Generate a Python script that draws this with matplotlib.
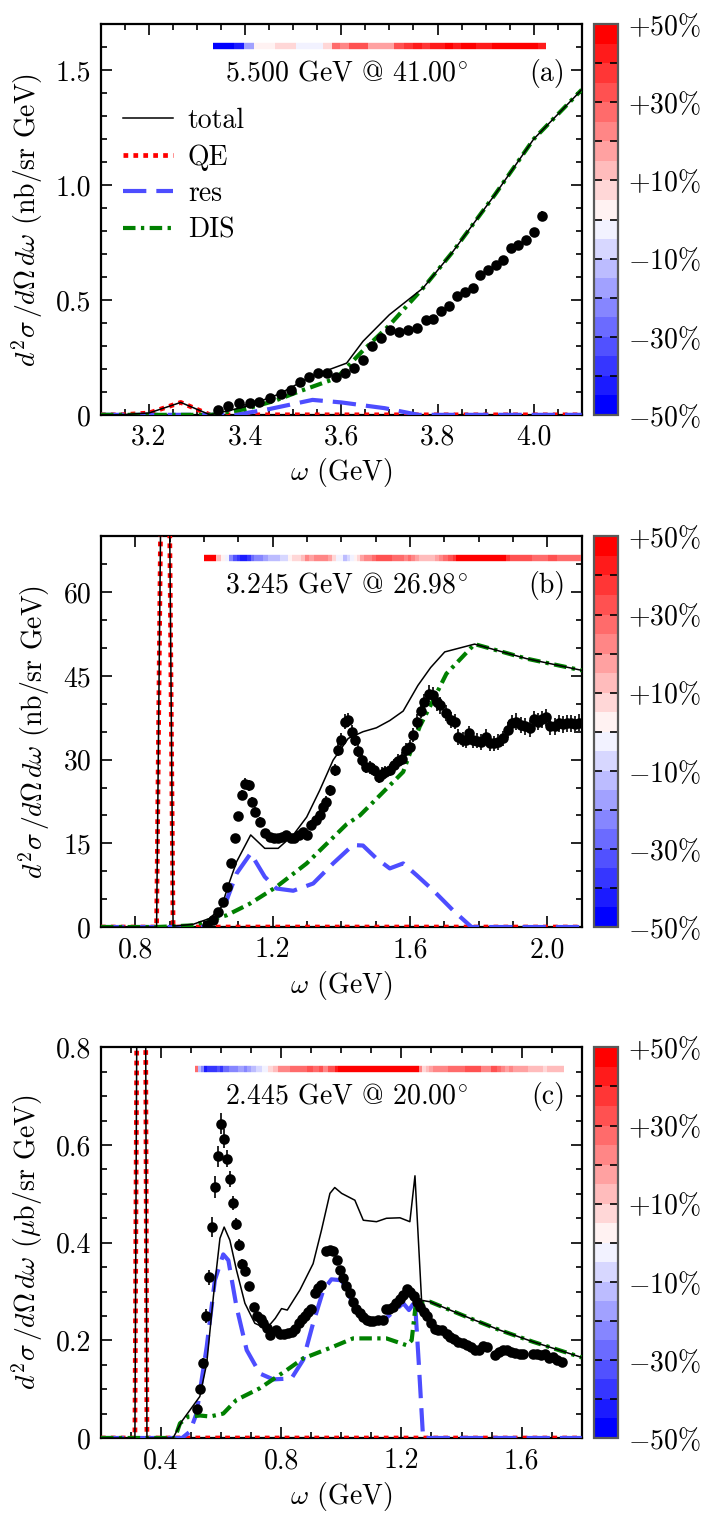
import matplotlib
matplotlib.use("Agg")
import matplotlib.pyplot as plt
import numpy as np
from matplotlib.collections import LineCollection
from matplotlib.transforms import blended_transform_factory
from matplotlib.ticker import MultipleLocator, FuncFormatter

plt.rcParams["font.family"] = ["cmr10", "DejaVu Serif"]
plt.rcParams["mathtext.fontset"] = "cm"
plt.rcParams["font.size"] = 10
plt.rcParams["axes.unicode_minus"] = False
plt.rcParams["axes.linewidth"] = 0.8

# ---------------- panel (a): 5.500 GeV @ 41.00 deg ----------------
a_w = [3.344, 3.365, 3.388, 3.409, 3.429, 3.451, 3.474, 3.495, 3.515, 3.533,
       3.552, 3.571, 3.589, 3.607, 3.626, 3.645, 3.664, 3.682, 3.701, 3.720,
       3.739, 3.758, 3.776, 3.791, 3.808, 3.824, 3.841, 3.857, 3.873, 3.888,
       3.904, 3.921, 3.936, 3.952, 3.968, 3.984, 4.000, 4.017]
a_y = [0.022, 0.039, 0.051, 0.051, 0.057, 0.073, 0.090, 0.109, 0.142, 0.164,
       0.182, 0.182, 0.164, 0.182, 0.204, 0.240, 0.301, 0.334, 0.368, 0.360,
       0.368, 0.378, 0.411, 0.418, 0.450, 0.475, 0.519, 0.533, 0.552, 0.610,
       0.632, 0.650, 0.673, 0.725, 0.740, 0.760, 0.795, 0.867]
a_err = [0.006, 0.006, 0.006, 0.006, 0.006, 0.007, 0.007, 0.007, 0.008, 0.008,
         0.008, 0.008, 0.008, 0.008, 0.008, 0.009, 0.009, 0.009, 0.010, 0.010,
         0.010, 0.010, 0.010, 0.010, 0.011, 0.011, 0.011, 0.011, 0.012, 0.012,
         0.012, 0.012, 0.013, 0.013, 0.013, 0.014, 0.016, 0.020]
a_tot_w = [3.10, 3.14, 3.20, 3.266, 3.327, 3.40, 3.47, 3.54, 3.611, 3.645,
           3.70, 3.77, 3.83, 3.92, 4.00, 4.10]
a_tot_y = [0.0, 0.0, 0.008, 0.054, 0.0, 0.035, 0.09, 0.17, 0.225, 0.32,
           0.436, 0.552, 0.705, 0.96, 1.20, 1.415]
a_qe_w = [3.10, 3.14, 3.20, 3.266, 3.327, 4.10]
a_qe_y = [0.0, 0.0, 0.008, 0.054, 0.0, 0.0]
a_res_w = [3.10, 3.38, 3.45, 3.54, 3.60, 3.69, 3.76, 4.10]
a_res_y = [0.0, 0.0, 0.025, 0.065, 0.054, 0.029, 0.0, 0.0]
a_dis_w = [3.10, 3.33, 3.40, 3.46, 3.51, 3.59, 3.645, 3.70, 3.77, 3.83,
           3.92, 4.00, 4.10]
a_dis_y = [0.0, 0.0, 0.025, 0.06, 0.10, 0.16, 0.28, 0.39, 0.552, 0.705,
           0.96, 1.20, 1.415]

# ---------------- panel (b): 3.245 GeV @ 26.98 deg ----------------
b_w = [1.009, 1.027, 1.041, 1.056, 1.068, 1.078, 1.090, 1.100, 1.111, 1.119,
       1.131, 1.140, 1.150, 1.162, 1.179, 1.191, 1.203, 1.216, 1.228, 1.240,
       1.252, 1.263, 1.276, 1.288, 1.300, 1.313, 1.326, 1.337, 1.347, 1.356,
       1.366, 1.381, 1.389, 1.400, 1.410, 1.420, 1.430, 1.441, 1.449, 1.460,
       1.471, 1.483, 1.494, 1.509, 1.518, 1.528, 1.541, 1.553, 1.565, 1.577,
       1.588, 1.599, 1.609, 1.620, 1.633, 1.642, 1.655, 1.667, 1.678, 1.688,
       1.706, 1.718, 1.730, 1.740, 1.753, 1.764, 1.772, 1.784, 1.795, 1.808,
       1.821, 1.832, 1.844, 1.856, 1.871, 1.886, 1.898, 1.910, 1.922, 1.934,
       1.949, 1.960, 1.973, 1.984, 1.997, 2.009, 2.021, 2.033, 2.044, 2.057,
       2.069, 2.081, 2.093]
b_y = [0.4, 1.25, 2.7, 4.5, 7.2, 11.4, 15.9, 19.9, 23.6, 25.7,
       25.4, 22.4, 20.6, 18.9, 16.8, 16.2, 15.9, 15.9, 16.2, 16.5,
       15.9, 15.9, 16.5, 17.0, 16.5, 18.3, 19.1, 20.0, 21.5, 22.4,
       24.5, 28.1, 31.8, 33.6, 36.8, 37.1, 35.0, 33.6, 31.6, 29.9,
       28.7, 28.6, 28.1, 26.9, 27.5, 27.8, 28.2, 29.0, 29.8, 30.2,
       31.8, 32.3, 34.4, 36.8, 38.8, 40.3, 41.8, 41.5, 40.3, 39.7,
       38.3, 37.1, 36.8, 34.1, 33.6, 33.5, 34.7, 33.5, 33.4, 33.2,
       34.0, 33.0, 32.9, 33.2, 33.8, 35.3, 36.5, 36.8, 36.2, 36.0,
       35.6, 37.2, 36.8, 37.2, 37.6, 36.0, 36.0, 36.5, 36.3, 36.5,
       36.5, 36.3, 36.6]
b_err = [0.2, 0.3, 0.3, 0.4, 0.5, 0.6, 0.7, 0.8, 0.9, 1.0,
         1.0, 0.9, 0.9, 0.8, 0.7, 0.7, 0.7, 0.7, 0.7, 0.7,
         0.7, 0.7, 0.7, 0.8, 0.8, 0.8, 0.9, 0.9, 0.9, 1.0,
         1.0, 1.1, 1.2, 1.2, 1.3, 1.3, 1.2, 1.2, 1.2, 1.1,
         1.1, 1.1, 1.1, 1.1, 1.1, 1.1, 1.1, 1.2, 1.2, 1.2,
         1.2, 1.3, 1.3, 1.4, 1.4, 1.5, 1.5, 1.5, 1.5, 1.5,
         1.4, 1.4, 1.4, 1.4, 1.4, 1.4, 1.4, 1.4, 1.4, 1.4,
         1.4, 1.4, 1.4, 1.4, 1.4, 1.5, 1.5, 1.5, 1.5, 1.5,
         1.5, 1.5, 1.5, 1.5, 1.5, 1.5, 1.5, 1.5, 1.5, 1.5,
         1.5, 1.5, 1.5]
b_tot_w = [0.70, 0.862, 0.888, 0.910, 0.920, 0.969, 1.017, 1.051, 1.071, 1.095,
           1.136, 1.177, 1.216, 1.260, 1.299, 1.337, 1.376, 1.420, 1.463, 1.502,
           1.541, 1.580, 1.623, 1.660, 1.701, 1.788, 1.939, 2.10]
b_tot_y = [0.0, 0.0, 160.0, 0.2, 0.2, 0.5, 1.55, 3.6, 7.5, 11.7,
           16.5, 14.1, 14.1, 16.5, 19.7, 24.5, 29.9, 33.8, 35.0, 35.7,
           37.0, 38.7, 43.3, 46.5, 49.3, 50.7, 48.1, 46.0]
b_qe_w = [0.70, 0.862, 0.888, 0.910, 2.10]
b_qe_y = [0.0, 0.0, 160.0, 0.0, 0.0]
b_res_w = [0.70, 0.997, 1.041, 1.066, 1.095, 1.136, 1.177, 1.211, 1.260, 1.318,
           1.376, 1.434, 1.463, 1.502, 1.541, 1.580, 1.619, 1.667, 1.725, 1.779,
           2.10]
b_res_y = [0.0, 0.0, 1.9, 4.8, 9.6, 13.2, 9.0, 6.9, 6.5, 7.8,
           11.4, 14.7, 14.6, 12.3, 10.5, 11.4, 9.3, 6.6, 3.0, 0.0,
           0.0]
b_dis_w = [0.70, 0.862, 0.969, 1.017, 1.066, 1.134, 1.211, 1.299, 1.415, 1.454,
           1.522, 1.580, 1.628, 1.667, 1.706, 1.788, 1.939, 2.10]
b_dis_y = [0.0, 0.0, 0.3, 1.25, 2.1, 4.2, 7.2, 11.4, 18.4, 20.0,
           24.2, 27.8, 35.9, 40.6, 45.4, 50.7, 48.1, 46.0]

# ---------------- panel (c): 2.445 GeV @ 20.00 deg ----------------
c_w = [0.518, 0.529, 0.540, 0.549, 0.560, 0.570, 0.580, 0.590, 0.600, 0.610,
       0.620, 0.631, 0.640, 0.649, 0.660, 0.670, 0.681, 0.692, 0.709, 0.720,
       0.731, 0.740, 0.751, 0.762, 0.782, 0.795, 0.808, 0.822, 0.835, 0.847,
       0.858, 0.869, 0.879, 0.890, 0.898, 0.912, 0.923, 0.931, 0.948, 0.962,
       0.973, 0.984, 0.995, 1.006, 1.015, 1.028, 1.039, 1.050, 1.062, 1.073,
       1.084, 1.095, 1.106, 1.122, 1.137, 1.148, 1.159, 1.172, 1.183, 1.195,
       1.206, 1.217, 1.230, 1.241, 1.252, 1.263, 1.275, 1.286, 1.297, 1.311,
       1.322, 1.336, 1.350, 1.361, 1.375, 1.389, 1.404, 1.417, 1.430, 1.444,
       1.458, 1.472, 1.486, 1.511, 1.524, 1.538, 1.551, 1.566, 1.579, 1.593,
       1.606, 1.637, 1.651, 1.664, 1.678, 1.691, 1.706, 1.719, 1.733]
c_y = [0.059, 0.100, 0.153, 0.250, 0.329, 0.432, 0.514, 0.577, 0.644, 0.613,
       0.572, 0.531, 0.481, 0.438, 0.395, 0.357, 0.342, 0.311, 0.269, 0.250,
       0.243, 0.235, 0.225, 0.211, 0.221, 0.214, 0.214, 0.215, 0.218, 0.224,
       0.235, 0.243, 0.250, 0.258, 0.265, 0.296, 0.308, 0.314, 0.383, 0.385,
       0.383, 0.364, 0.345, 0.327, 0.311, 0.296, 0.279, 0.265, 0.255, 0.247,
       0.241, 0.240, 0.240, 0.241, 0.242, 0.265, 0.264, 0.269, 0.276, 0.284,
       0.293, 0.306, 0.298, 0.291, 0.279, 0.269, 0.258, 0.250, 0.236, 0.224,
       0.221, 0.221, 0.214, 0.207, 0.202, 0.197, 0.194, 0.190, 0.187, 0.180,
       0.181, 0.188, 0.187, 0.170, 0.177, 0.180, 0.180, 0.177, 0.175, 0.173,
       0.172, 0.173, 0.173, 0.170, 0.173, 0.163, 0.166, 0.160, 0.156]
c_err = [0.006, 0.008, 0.010, 0.014, 0.016, 0.020, 0.022, 0.022, 0.022, 0.020,
         0.018, 0.016, 0.014, 0.013, 0.012, 0.010, 0.009, 0.008, 0.007, 0.007,
         0.006, 0.006, 0.006, 0.006, 0.006, 0.006, 0.006, 0.006, 0.006, 0.006,
         0.006, 0.006, 0.006, 0.006, 0.006, 0.007, 0.007, 0.007, 0.008, 0.008,
         0.008, 0.007, 0.007, 0.007, 0.006, 0.006, 0.006, 0.006, 0.006, 0.006,
         0.006, 0.006, 0.006, 0.006, 0.006, 0.006, 0.006, 0.006, 0.006, 0.006,
         0.006, 0.007, 0.006, 0.006, 0.006, 0.006, 0.006, 0.006, 0.005, 0.005,
         0.005, 0.005, 0.005, 0.005, 0.005, 0.005, 0.005, 0.005, 0.005, 0.005,
         0.005, 0.005, 0.005, 0.005, 0.005, 0.005, 0.005, 0.005, 0.005, 0.005,
         0.005, 0.005, 0.005, 0.005, 0.005, 0.005, 0.005, 0.005, 0.005]
c_tot_w = [0.20, 0.313, 0.337, 0.353, 0.44, 0.47, 0.496, 0.529, 0.552, 0.574,
           0.596, 0.610, 0.629, 0.651, 0.679, 0.712, 0.751, 0.780, 0.801, 0.820,
           0.862, 0.906, 0.934, 0.962, 0.978, 1.001, 1.045, 1.073, 1.117, 1.150,
           1.195, 1.228, 1.245, 1.267, 1.295, 1.417, 1.527, 1.638, 1.80]
c_tot_y = [0.0, 0.0, 3.2, 0.0, 0.0, 0.035, 0.057, 0.085, 0.153, 0.289,
           0.409, 0.432, 0.405, 0.344, 0.276, 0.235, 0.224, 0.245, 0.265, 0.262,
           0.303, 0.357, 0.426, 0.501, 0.513, 0.501, 0.487, 0.446, 0.443, 0.450,
           0.451, 0.443, 0.537, 0.282, 0.279, 0.248, 0.221, 0.197, 0.165]
c_qe_w = [0.20, 0.313, 0.337, 0.353, 1.80]
c_qe_y = [0.0, 0.0, 3.2, 0.0, 0.0]
c_res_w = [0.20, 0.47, 0.496, 0.518, 0.552, 0.579, 0.607, 0.624, 0.651, 0.685,
           0.729, 0.773, 0.834, 0.873, 0.906, 0.940, 0.967, 1.001, 1.028, 1.062,
           1.095, 1.139, 1.172, 1.206, 1.225, 1.245, 1.258, 1.272, 1.80]
c_res_y = [0.0, 0.0, 0.013, 0.050, 0.187, 0.323, 0.376, 0.364, 0.269, 0.180,
           0.132, 0.120, 0.122, 0.160, 0.235, 0.303, 0.325, 0.323, 0.289, 0.255,
           0.240, 0.240, 0.258, 0.276, 0.262, 0.280, 0.150, 0.0, 0.0]
c_dis_w = [0.20, 0.446, 0.463, 0.491, 0.530, 0.563, 0.607, 0.651, 0.729, 0.818,
           0.873, 0.973, 1.039, 1.150, 1.217, 1.234, 1.248, 1.295, 1.417, 1.527,
           1.638, 1.80]
c_dis_y = [0.0, 0.0, 0.030, 0.044, 0.046, 0.044, 0.050, 0.078, 0.102, 0.139,
           0.163, 0.187, 0.204, 0.204, 0.190, 0.200, 0.276, 0.279, 0.248, 0.221,
           0.197, 0.165]

cmap = plt.get_cmap("bwr", 20)
norm = matplotlib.colors.Normalize(-50, 50, clip=True)


def yfmt(v, pos):
    if abs(v) < 1e-9:
        return "0"
    if float(v).is_integer() and v >= 10:
        return "%d" % v
    return "%.1f" % v


def panel(ax, cax, w, y, err, tot, qe, res, dis, title, tag, ylabel,
          xlim, ylim, xmaj, xmin, ymaj, ymin, legend=False):
    l_qe, = ax.plot(qe[0], qe[1], color="red", lw=1.7, dashes=(1.0, 1.1),
                    dash_capstyle="butt", zorder=3, label="QE")
    l_res, = ax.plot(res[0], res[1], color="#4d4dff", lw=1.5, dashes=(5.6, 2.4),
                     zorder=3, label="res")
    l_dis, = ax.plot(dis[0], dis[1], color="green", lw=1.5,
                     dashes=(3.0, 1.3, 0.8, 1.3), zorder=3, label="DIS")
    l_tot, = ax.plot(tot[0], tot[1], color="black", lw=0.55, zorder=4,
                     label="total")
    ax.errorbar(w, y, yerr=err, fmt="o", color="black", ms=2.8, elinewidth=0.6,
                capsize=0, zorder=5)

    # model vs data deviation strip
    w = np.asarray(w)
    dev = (np.interp(w, tot[0], tot[1]) - np.asarray(y)) / np.asarray(y) * 100
    edges = np.concatenate([[w[0] - (w[1] - w[0]) / 2], (w[1:] + w[:-1]) / 2,
                            [w[-1] + (w[-1] - w[-2]) / 2]])
    segs = [[(edges[i], 0.945), (edges[i + 1], 0.945)] for i in range(len(w))]
    trans = blended_transform_factory(ax.transData, ax.transAxes)
    lc = LineCollection(segs, colors=cmap(norm(dev)), linewidths=2.3,
                        transform=trans, capstyle="butt", zorder=6)
    ax.add_collection(lc)

    ax.text(0.51, 0.875, title, transform=ax.transAxes, ha="center", va="center")
    ax.text(0.965, 0.875, tag, transform=ax.transAxes, ha="right", va="center")

    ax.set_xlim(*xlim)
    ax.set_ylim(*ylim)
    ax.xaxis.set_major_locator(MultipleLocator(xmaj))
    ax.xaxis.set_minor_locator(MultipleLocator(xmin))
    ax.yaxis.set_major_locator(MultipleLocator(ymaj))
    ax.yaxis.set_minor_locator(MultipleLocator(ymin))
    ax.xaxis.set_major_formatter(FuncFormatter(lambda v, p: "%.1f" % v))
    ax.yaxis.set_major_formatter(FuncFormatter(yfmt))
    ax.tick_params(which="both", direction="in", top=True, right=True, width=0.6)
    ax.tick_params(which="major", length=4)
    ax.tick_params(which="minor", length=2)
    ax.set_xlabel(r"$\omega$ (GeV)", labelpad=2)
    ax.set_ylabel(ylabel)

    if legend:
        ax.legend(handles=[l_tot, l_qe, l_res, l_dis], loc="upper left",
                  bbox_to_anchor=(-0.007, 0.85), frameon=False, handlelength=1.8,
                  labelspacing=0.36, handletextpad=0.55)

    sm = matplotlib.cm.ScalarMappable(norm=norm, cmap=cmap)
    cb = plt.colorbar(sm, cax=cax)
    cb.set_ticks([-50, -30, -10, 10, 30, 50])
    cb.set_ticklabels([r"$-50\%$", r"$-30\%$", r"$-10\%$",
                       r"$+10\%$", r"$+30\%$", r"$+50\%$"])
    cax.set_yticks([-40, -20, 0, 20, 40], minor=True)
    cax.tick_params(which="both", direction="in", left=True, right=True,
                    length=3, width=0.6)
    cb.outline.set_edgecolor("0.35")
    cb.outline.set_linewidth(0.8)


fig = plt.figure(figsize=(3.53, 7.57), dpi=200)
rows = [0.726, 0.3877, 0.0502]
axes = []
for b in rows:
    ax = fig.add_axes([0.143, b, 0.681, 0.2580])
    cax = fig.add_axes([0.8414, b, 0.034, 0.2580])
    axes.append((ax, cax))

nb = r"$d^2\sigma\,/d\Omega\,d\omega$ (nb/sr GeV)"
ub = r"$d^2\sigma\,/d\Omega\,d\omega$ ($\mu$b/sr GeV)"

panel(axes[0][0], axes[0][1], a_w, a_y, a_err, (a_tot_w, a_tot_y),
      (a_qe_w, a_qe_y), (a_res_w, a_res_y), (a_dis_w, a_dis_y),
      r"5.500 GeV @ 41.00$^{\circ}$", "(a)", nb,
      (3.1, 4.1), (0, 1.7), 0.2, 0.05, 0.5, 0.1, legend=True)
panel(axes[1][0], axes[1][1], b_w, b_y, b_err, (b_tot_w, b_tot_y),
      (b_qe_w, b_qe_y), (b_res_w, b_res_y), (b_dis_w, b_dis_y),
      r"3.245 GeV @ 26.98$^{\circ}$", "(b)", nb,
      (0.7, 2.1), (0, 70), 0.4, 0.1, 15, 5)
panel(axes[2][0], axes[2][1], c_w, c_y, c_err, (c_tot_w, c_tot_y),
      (c_qe_w, c_qe_y), (c_res_w, c_res_y), (c_dis_w, c_dis_y),
      r"2.445 GeV @ 20.00$^{\circ}$", "(c)", ub,
      (0.2, 1.8), (0, 0.8), 0.4, 0.1, 0.2, 0.05)

fig.savefig("out.png", dpi=200)
